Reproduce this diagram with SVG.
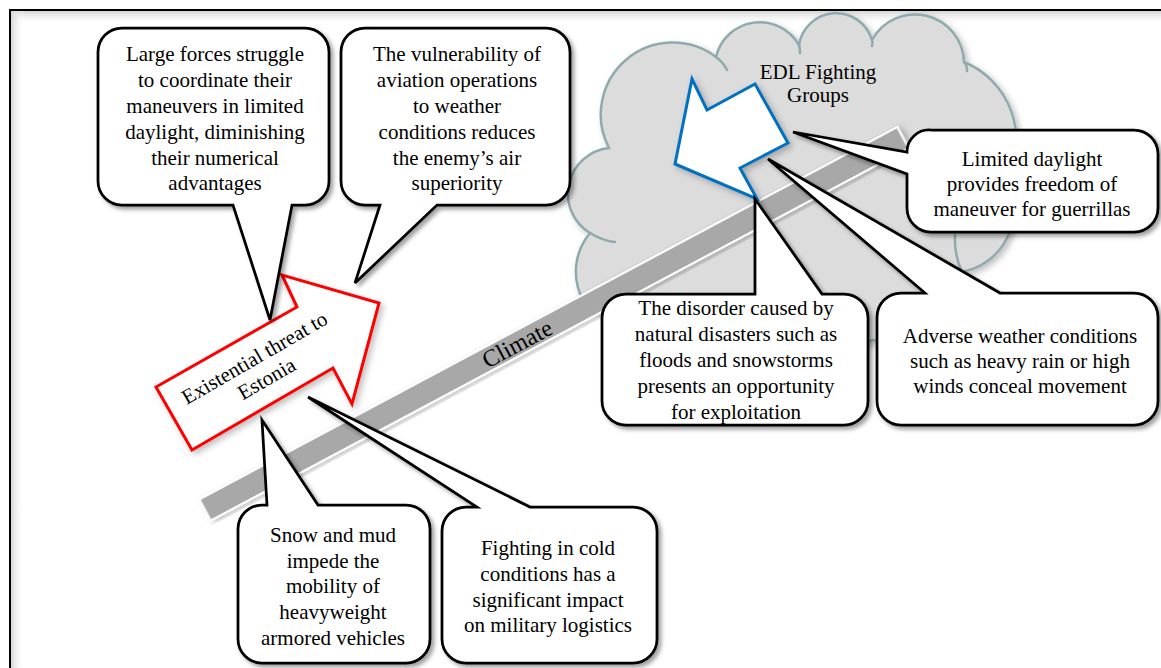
<svg xmlns="http://www.w3.org/2000/svg" width="1161" height="668" viewBox="0 0 1161 668">
  <defs>
    <style>
      .t { font-family: 'Liberation Serif', 'Times New Roman', serif; font-size: 21px; fill: #000; text-anchor: middle; }
      .callout { fill: #fff; stroke: #000; stroke-width: 2.75; stroke-linejoin: miter; }
      .cloudline { fill: none; stroke: #8eaaae; stroke-width: 2.5; stroke-linecap: round; }
    </style>
    <filter id="shadow" x="-10%" y="-10%" width="130%" height="130%">
      <feDropShadow dx="3" dy="3" stdDeviation="2.2" flood-color="#000" flood-opacity="0.38"/>
    </filter>
    <filter id="softShadow" x="-10%" y="-10%" width="130%" height="130%">
      <feDropShadow dx="3" dy="3" stdDeviation="3" flood-color="#000" flood-opacity="0.25"/>
    </filter>
    <linearGradient id="topShade" x1="0" y1="0" x2="0" y2="1">
      <stop offset="0" stop-color="#d6d6d6"/>
      <stop offset="1" stop-color="#ffffff" stop-opacity="0"/>
    </linearGradient>
    <linearGradient id="leftShade" x1="0" y1="0" x2="1" y2="0">
      <stop offset="0" stop-color="#d6d6d6"/>
      <stop offset="1" stop-color="#ffffff" stop-opacity="0"/>
    </linearGradient>
  </defs>

  <!-- page background and frame -->
  <rect x="0" y="0" width="1161" height="668" fill="#fff"/>
  <rect x="11" y="11" width="1150" height="14" fill="url(#topShade)"/>
  <rect x="11" y="11" width="14" height="657" fill="url(#leftShade)"/>
  <rect x="10" y="10" width="1200" height="700" fill="none" stroke="#000" stroke-width="2"/>

  <!-- cloud: EDL fighting groups -->
  <g id="cloud">
    <path filter="url(#softShadow)" fill="#dcdcdc" stroke="#8eaaae" stroke-width="2.5"
      d="M583,300 A60,60 0 0 1 590,233 A46,46 0 0 1 609,148 A72,72 0 0 1 716,57 A45,45 0 0 1 799,45 A37.5,37.5 0 0 1 872,40 A49,49 0 0 1 964,62 A84,84 0 0 1 1006,180 A63,63 0 0 1 962,272 A76,76 0 0 1 872,340 A100,100 0 0 1 740,330 A170,170 0 0 1 583,300 Z"/>
    <path class="cloudline" d="M590,233 Q603,241 615,242"/>
    <path class="cloudline" d="M716,57 Q723,62 727,70"/>
    <path class="cloudline" d="M799,45 Q800,48 800,53"/>
    <path class="cloudline" d="M872,40 Q873,42 872,46"/>
    <path class="cloudline" d="M964,62 Q967,65 967,71"/>
    <path class="cloudline" d="M962,272 Q954,255 955,235"/>
    <text class="t" x="818" y="79">EDL Fighting</text>
    <text class="t" x="818" y="102">Groups</text>
  </g>

  <!-- climate band -->
  <g id="climate" transform="translate(554,323.8) rotate(-28.08)">
    <rect x="-395.5" y="-12" width="791" height="24" fill="#a8a8a8" stroke="#fff" stroke-width="2" filter="url(#softShadow)"/>
    <text class="t" x="-42" y="0" dy="0.35em" fill="#1e1e1e" style="font-size:24px">Climate</text>
  </g>

  <!-- EDL arrow -->
  <g id="edl-arrow">
    <polygon points="675,164 692,79 707,110 755,84 788,143 740,168 757,199" fill="#fff" stroke="#0070c0" stroke-width="3" stroke-linejoin="miter" filter="url(#softShadow)"/>
  </g>

  <!-- threat arrow -->
  <g id="threat-arrow">
    <polygon points="156,387 297,307 282,275 379,303 352,404 333,368 192,450" fill="#fff" stroke="#ff0000" stroke-width="3" stroke-linejoin="miter" filter="url(#softShadow)"/>
    <g transform="translate(258,364) rotate(-30)">
      <text class="t" x="0" y="0">Existential threat to</text>
      <text class="t" x="0" y="24">Estonia</text>
    </g>
  </g>

  <!-- callouts -->
  <g id="callouts">
    <g id="c-large-forces">
      <path class="callout" filter="url(#shadow)" d="M122,28 H305 A24,24 0 0 1 329,52 V181 A24,24 0 0 1 305,205 H292 L270,320 L233,205 H122 A24,24 0 0 1 98,181 V52 A24,24 0 0 1 122,28 Z"/>
      <text class="t" x="215" y="60.5">Large forces struggle</text>
      <text class="t" x="215" y="86.5">to coordinate their</text>
      <text class="t" x="215" y="112.5">maneuvers in limited</text>
      <text class="t" x="215" y="138.5">daylight, diminishing</text>
      <text class="t" x="215" y="164.5">their numerical</text>
      <text class="t" x="215" y="190">advantages</text>
    </g>
    <g id="c-aviation">
      <path class="callout" filter="url(#shadow)" d="M365,28 H546 A24,24 0 0 1 570,52 V181 A24,24 0 0 1 546,205 H437 L355,283 L380,205 H365 A24,24 0 0 1 341,181 V52 A24,24 0 0 1 365,28 Z"/>
      <text class="t" x="457" y="60.5">The vulnerability of</text>
      <text class="t" x="457" y="86.5">aviation operations</text>
      <text class="t" x="457" y="112.5">to weather</text>
      <text class="t" x="457" y="138.5">conditions reduces</text>
      <text class="t" x="457" y="164.5">the enemy’s air</text>
      <text class="t" x="457" y="190">superiority</text>
    </g>
    <g id="c-daylight">
      <path class="callout" filter="url(#shadow)" d="M931,130 H1134 A24,24 0 0 1 1158,154 V208 A24,24 0 0 1 1134,232 H931 A24,24 0 0 1 907,208 V174 L793,132 L907,152 A22,22 0 0 1 931,130 Z"/>
      <text class="t" x="1032" y="166">Limited daylight</text>
      <text class="t" x="1032" y="191">provides freedom of</text>
      <text class="t" x="1032" y="216">maneuver for guerrillas</text>
    </g>
    <g id="c-disorder">
      <path class="callout" filter="url(#shadow)" d="M626,294 H755 L755,199 L822,294 H844 A24,24 0 0 1 868,318 V401 A24,24 0 0 1 844,425 H626 A24,24 0 0 1 602,401 V318 A24,24 0 0 1 626,294 Z"/>
      <text class="t" x="736" y="315">The disorder caused by</text>
      <text class="t" x="736" y="341">natural disasters such as</text>
      <text class="t" x="736" y="367">floods and snowstorms</text>
      <text class="t" x="736" y="393">presents an opportunity</text>
      <text class="t" x="736" y="419">for exploitation</text>
    </g>
    <g id="c-weather">
      <path class="callout" filter="url(#shadow)" d="M901,293 H925 L768,159 L1000,293 H1134 A24,24 0 0 1 1158,317 V401 A24,24 0 0 1 1134,425 H901 A24,24 0 0 1 877,401 V317 A24,24 0 0 1 901,293 Z"/>
      <text class="t" x="1020" y="343">Adverse weather conditions</text>
      <text class="t" x="1020" y="368">such as heavy rain or high</text>
      <text class="t" x="1020" y="393">winds conceal movement</text>
    </g>
    <g id="c-snow">
      <path class="callout" filter="url(#shadow)" d="M262,505 H267 L262,420 L318,505 H406 A24,24 0 0 1 430,529 V639 A24,24 0 0 1 406,663 H262 A24,24 0 0 1 238,639 V529 A24,24 0 0 1 262,505 Z"/>
      <text class="t" x="333" y="542">Snow and mud</text>
      <text class="t" x="333" y="567.5">impede the</text>
      <text class="t" x="333" y="593">mobility of</text>
      <text class="t" x="333" y="619">heavyweight</text>
      <text class="t" x="333" y="644.5">armored vehicles</text>
    </g>
    <g id="c-cold">
      <path class="callout" filter="url(#shadow)" d="M466,507 H477 L308,397 L530,507 H633 A24,24 0 0 1 657,531 V639 A24,24 0 0 1 633,663 H466 A24,24 0 0 1 442,639 V531 A24,24 0 0 1 466,507 Z"/>
      <text class="t" x="548" y="555">Fighting in cold</text>
      <text class="t" x="548" y="580.5">conditions has a</text>
      <text class="t" x="548" y="606.5">significant impact</text>
      <text class="t" x="548" y="632">on military logistics</text>
    </g>
  </g>
</svg>
